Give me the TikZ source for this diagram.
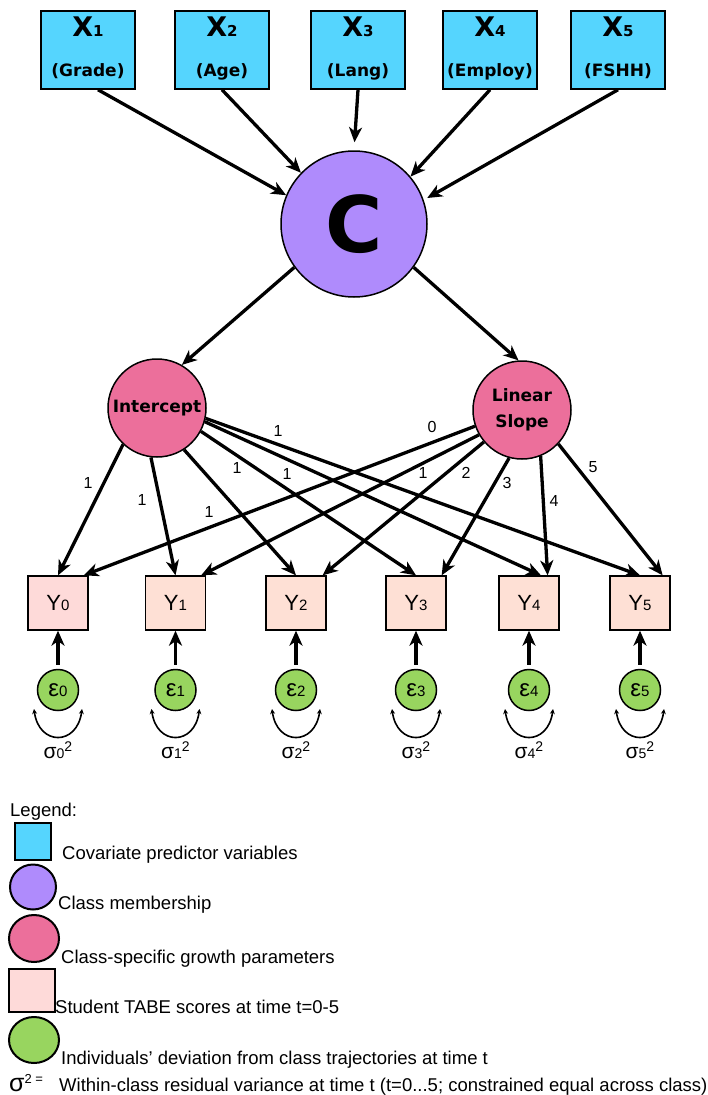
\documentclass[tikz,border=0pt]{standalone}
\usepackage{fontspec}
\setmainfont{Liberation Sans}
\newfontfamily\dvs{DejaVu Sans}
\usetikzlibrary{arrows.meta,calc,shapes.geometric}
\definecolor{xblue}{RGB}{85,213,254}
\definecolor{cpurple}{RGB}{175,139,252}
\definecolor{gpink}{RGB}{236,111,155}
\definecolor{ypink}{RGB}{254,224,213}
\definecolor{ypinkb}{RGB}{254,218,217}
\definecolor{egreen}{RGB}{152,213,95}
\newcommand{\fs}[1]{\fontsize{#1}{#1}\selectfont}
\begin{document}
\begin{tikzpicture}[x=1pt,y=-1pt,
  xbox/.style={draw, line width=1.5pt, fill=xblue, minimum width=94pt, minimum height=78pt, inner sep=0pt},
  xname/.style={anchor=base, inner sep=0pt, font=\dvs\bfseries\fs{27}},
  xlab/.style={anchor=base, inner sep=0pt, font=\dvs\bfseries\fs{17}},
  ybox/.style={draw, line width=1.3pt, minimum width=60pt, minimum height=54pt, inner sep=0pt, font=\fs{22}},
  gpar/.style={circle, draw, line width=1.5pt, fill=gpink, minimum size=98pt, inner sep=0pt, font=\dvs\bfseries\fs{17}},
  enode/.style={circle, draw, line width=1.5pt, fill=egreen, minimum size=41pt, inner sep=0pt, font=\fs{24}},
  arr/.style={line width=3.3pt, -{Stealth[length=15pt,width=13pt,inset=4.5pt]}},
  varr/.style={line width=1.6pt, {Stealth[length=5pt,width=5pt,inset=1.5pt]}-{Stealth[length=5pt,width=5pt,inset=1.5pt]}},
  plab/.style={inner sep=0pt, font=\fs{16}},
  slab/.style={inner sep=0pt, font=\fs{21}},
  legtxt/.style={anchor=base west, inner sep=0pt, font=\fs{18.5}},
  legshape/.style={draw, line width=2pt, inner sep=0pt}
]
\useasboundingbox (0,0) rectangle (708,1095);

% covariates
\foreach \i/\x/\lab in {1/88/Grade,2/222/Age,3/358/Lang,4/490/Employ,5/618/FSHH}{
  \node[xbox] (x\i) at (\x,50) {};
  \node[xname] (x\i n) at (\x,36) {X{\fs{15}\i}};
  \node[xlab] (x\i l) at (\x,76) {(\lab)};
}

% class
\node[circle, draw, line width=1.5pt, fill=cpurple, minimum size=146pt, inner sep=0pt,
      font=\dvs\bfseries\fs{78}] (c) at (354,224) {C};

% growth parameters
\node[gpar] (int) at (157,408) {Intercept};
\node[gpar, align=center, font=\dvs\bfseries\fontsize{17}{26}\selectfont] (slp) at (522,410) {Linear\\Slope};

% observed
\foreach \i/\x/\col in {0/58/ypinkb,1/175.5/ypink,2/296/ypink,3/416/ypink,4/529/ypink,5/640/ypink}{
  \node[ybox, fill=\col] (y\i) at (\x,603) {Y{\fs{15}\i}};
  \node[enode] (e\i) at (\x,690) {ε{\fs{15}\i}};
  \node[slab] (s\i) at (\x,750) {σ{\fs{14}\i\raisebox{7pt}{2}}};
  \draw[arr, shorten <=4pt] (e\i.north) -- (y\i.south);
  \draw[varr] ($(e\i.center)+(-24,19)$) .. controls ($(e\i.center)+(-19,56)$) and ($(e\i.center)+(19,56)$) .. ($(e\i.center)+(24,19)$);
}

% covariate arrows
\draw[arr] ([xshift=10pt]x1.south) -- (c.157);
\draw[arr] (x2.south) -- (c.136);
\draw[arr, shorten >=8pt] (x3.south) -- (c.90);
\draw[arr] (x4.south) -- (c.40);
\draw[arr, shorten >=4pt] (x5.south) -- (c.19);

% class to growth
\draw[arr] (c.216) -- (int.60);
\draw[arr] (c.324) -- (slp.94);

% intercept loadings
\draw[arr] (int.227) -- (y0.north);
\draw[arr] (int.263) -- (y1.north);
\draw[arr] (int.303) -- (y2.north);
\draw[arr] (int.332) -- (y3.north);
\draw[arr] (int.344) -- ([xshift=12pt]y4.north);
\draw[arr] (int.348) -- (y5.north);

% slope loadings
\draw[arr] (slp.199) -- ([xshift=-5pt]y0.north east);
\draw[arr] (slp.210) -- ([xshift=-5pt]y1.north east);
\draw[arr] (slp.220) -- ([xshift=-4pt]y2.north east);
\draw[arr] (slp.255) -- ([xshift=-5pt]y3.north east);
\draw[arr] (slp.292) -- ([xshift=-12pt]y4.north east);
\draw[arr] (slp.317) -- ([xshift=-8pt]y5.north east);

% loading labels
\node[plab] (li0) at (88,483) {1};
\node[plab] (li1) at (142,500) {1};
\node[plab] (li2) at (209,512) {1};
\node[plab] (li3) at (237,468) {1};
\node[plab] (li4) at (287,474) {1};
\node[plab] (li5) at (278,431) {1};
\node[plab] (ls0) at (432,427) {0};
\node[plab] (ls1) at (423,473) {1};
\node[plab] (ls2) at (466,473) {2};
\node[plab] (ls3) at (507,483) {3};
\node[plab] (ls4) at (554,501) {4};
\node[plab] (ls5) at (593,467) {5};

% legend
\node[legtxt] (lgt) at (10,816) {Legend:};
\node[legshape, fill=xblue, minimum width=36pt, minimum height=37pt] (lg1) at (33,841.5) {};
\node[legtxt] (lg1t) at (62,859) {Covariate predictor variables};
\node[legshape, fill=cpurple, ellipse, minimum width=46pt, minimum height=45pt] (lg2) at (33,887) {};
\node[legtxt] (lg2t) at (58,909) {Class membership};
\node[legshape, fill=gpink, ellipse, minimum width=50pt, minimum height=47pt] (lg3) at (34,938.5) {};
\node[legtxt] (lg3t) at (61,963) {Class-specific growth parameters};
\node[legshape, fill=ypinkb, minimum width=46pt, minimum height=43pt] (lg4) at (32,990.5) {};
\node[legtxt] (lg4t) at (55,1013) {Student TABE scores at time t=0-5};
\node[legshape, fill=egreen, ellipse, minimum width=50pt, minimum height=46pt] (lg5) at (34,1040) {};
\node[legtxt] (lg5t) at (61,1064) {Individuals’ deviation from class trajectories at time t};
\node[legtxt, font=\fs{25}] (lg6s) at (9,1091) {σ{\fs{13}\raisebox{8pt}{2 =}}};
\node[legtxt] (lg6t) at (59,1091) {Within-class residual variance at time t (t=0...5; constrained equal across class)};
\end{tikzpicture}
\end{document}
